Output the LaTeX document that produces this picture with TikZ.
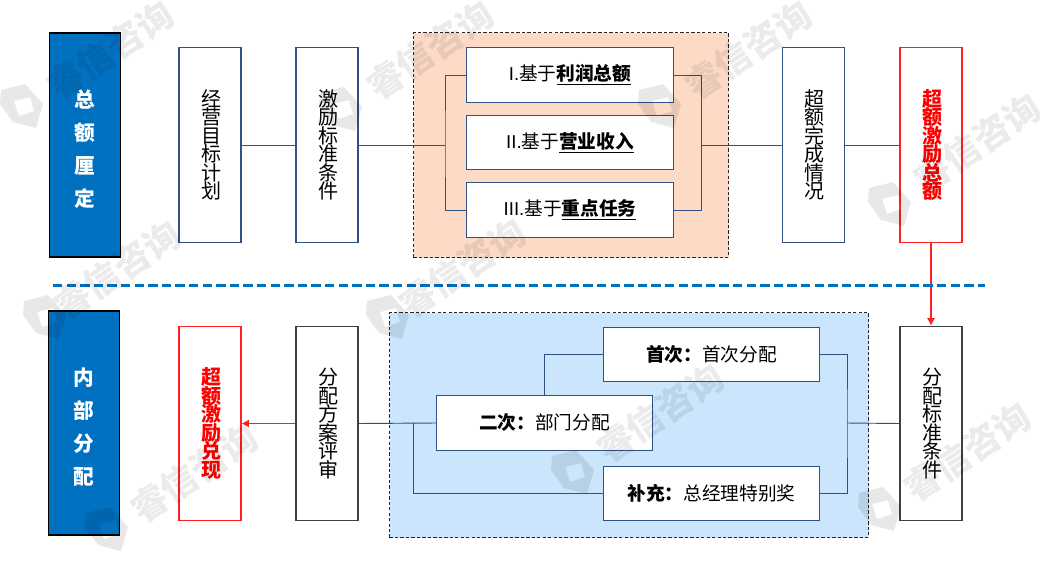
\documentclass[tikz,border=0pt]{standalone}
\usepackage{fontspec}
\setmainfont{Noto Sans CJK SC}
\newfontfamily\latinf{Liberation Sans}
\usetikzlibrary{arrows.meta}
\definecolor{navy}{HTML}{2F5285}
\definecolor{corpblue}{HTML}{0070C0}
\definecolor{peach}{HTML}{FCDAC6}
\definecolor{skyb}{HTML}{CAE5FC}
\definecolor{redb}{HTML}{FF2020}
\newcommand{\vtxt}[1]{\hspace*{1.5pt}\parbox{19pt}{\centering\lineskiplimit=-20pt\baselineskip=13.9pt #1\par}}
\newcommand{\hdrtxt}[1]{\parbox{20pt}{\vspace*{6pt}\centering\baselineskip=24.6pt #1\par}}
\newcommand{\lat}[1]{{\latinf #1}}
\tikzset{x=0.75pt,y=-0.75pt,
 vbox/.style={draw=navy,line width=0.9pt,fill=white,minimum width=46.5pt,minimum height=146pt,inner sep=0pt,font=\fontsize{15}{14}\selectfont},
 redbox/.style={vbox,draw=redb,text=red,font=\fontsize{15}{14}\selectfont\bfseries},
 greybox/.style={vbox,draw=black!75},
 hbox/.style={draw=navy,line width=0.9pt,fill=white,minimum height=41pt,inner sep=0pt,font=\fontsize{14}{15}\selectfont},
 hdr/.style={draw=black,line width=0.9pt,fill=corpblue,text=white,minimum width=53pt,minimum height=168pt,inner sep=0pt,font=\fontsize{15.5}{14}\selectfont\bfseries},
 panel/.style={draw=black!85,dash pattern=on 2.5pt off 1.6pt,line width=0.75pt},
 conn/.style={draw=navy,line width=0.7pt},
 redconn/.style={draw=redb,line width=0.8pt,-{Latex[length=5.5pt,width=6pt]}},
}
\newcommand{\wm}[4]{%
 \fill[black,opacity=0.09,even odd rule] (#1-21,#2-17) -- (#1+3,#2-23) -- (#1+21,#2-3) -- (#1+14,#2+21) -- (#1-9,#2+15) -- (#1-22,#2-3) -- cycle
   (#1-8,#2-6) -- (#1+8,#2-10) -- (#1+12,#2+4) -- (#1-3,#2+9) -- cycle;
 \node[text=black,opacity=0.08,rotate=34,font=\fontsize{27}{27}\selectfont\bfseries,inner sep=0pt] (wm#1#2) at (#3,#4) {睿信咨询};}
\begin{document}
\begin{tikzpicture}
\useasboundingbox (0,0) rectangle (1040,571);
\fill[white] (0,0) rectangle (1040,571);
% panels
\node[panel,fill=peach,minimum width=236.25pt,minimum height=168.75pt,inner sep=0pt] (ptop) at (571,145) {};
\node[panel,fill=skyb,minimum width=359.25pt,minimum height=168.75pt,inner sep=0pt] (pbot) at (629,425) {};
% headers
\node[hdr] (h1) at (85,145) {\hdrtxt{总\par 额\par 厘\par 定}};
\node[hdr] (h2) at (84,423) {\hdrtxt{内\par 部\par 分\par 配}};
% top row
\node[vbox] (a1) at (210,145) {\vtxt{经\par 营\par 目\par 标\par 计\par 划}};
\node[vbox] (a2) at (327,145) {\vtxt{激\par 励\par 标\par 准\par 条\par 件}};
\node[hbox,minimum width=155.25pt] (b1) at (570,75) {\lat{I.}基于\textbf{\underline{利润总额}}};
\node[hbox,minimum width=155.25pt] (b2) at (570,142.5) {\lat{II.}基于\textbf{\underline{营业收入}}};
\node[hbox,minimum width=155.25pt] (b3) at (570,210) {\lat{III.}基于\textbf{\underline{重点任务}}};
\node[vbox] (a3) at (813.5,145) {\vtxt{超\par 额\par 完\par 成\par 情\par 况}};
\node[redbox] (a4) at (931,145) {\vtxt{超\par 额\par 激\par 励\par 总\par 额}};
% bottom row
\node[redbox] (c1) at (210,423.5) {\vtxt{超\par 额\par 激\par 励\par 兑\par 现}};
\node[greybox] (c2) at (327,423.5) {\vtxt{分\par 配\par 方\par 案\par 评\par 审}};
\node[hbox,minimum width=162pt] (d1) at (711.5,354.5) {\textbf{首次：}首次分配};
\node[hbox,minimum width=162pt] (d2) at (544.5,423) {\textbf{二次：}部门分配};
\node[hbox,minimum width=162pt] (d3) at (711.5,493.5) {\textbf{补充：}总经理特别奖};
\node[greybox] (c3) at (931,423.5) {\vtxt{分\par 配\par 标\par 准\par 条\par 件}};
% junction points
\coordinate (jl) at (445,145);
\coordinate (jr) at (701.5,145);
\coordinate (kl) at (413,423);
\coordinate (kr) at (847,423);
\coordinate (ku) at (544.5,354.5);
% connectors
\draw[conn] (a1.east) -- (a2.west);
\draw[conn] (a2.east) -- (jl);
\draw[conn] (b1.west) -| (jl) |- (b3.west);
\draw[conn] (b1.east) -| (jr) |- (b3.east);
\draw[conn] (jr) -- (a3.west);
\draw[conn] (a3.east) -- (a4.west);
\draw[redconn] (a4.south) -- (c3.north);
\draw[redconn] (c2.west) -- (c1.east);
\draw[conn] (c2.east) -- (d2.west);
\draw[conn] (kl) |- (d3.west);
\draw[conn] (d2.north -| ku) -- (ku) -- (d1.west);
\draw[conn] (d1.east) -| (kr) |- (d3.east);
\draw[conn] (kr) -- (c3.west);
% divider
\coordinate (dl) at (53,285.5);
\coordinate (dr) at (985,285.5);
\draw[corpblue,line width=2pt,dash pattern=on 7pt off 3.2pt] (dl) -- (dr);
% watermarks
\wm{22}{107}{110}{50}
\wm{341}{110}{430}{50}
\wm{660}{107}{748}{50}
\wm{45}{318}{117}{270}
\wm{388}{318}{462}{268}
\wm{890}{205}{977}{143}
\wm{573}{473}{660}{413}
\wm{880}{510}{967}{452}
\wm{107}{530}{194}{473}
\end{tikzpicture}
\end{document}
